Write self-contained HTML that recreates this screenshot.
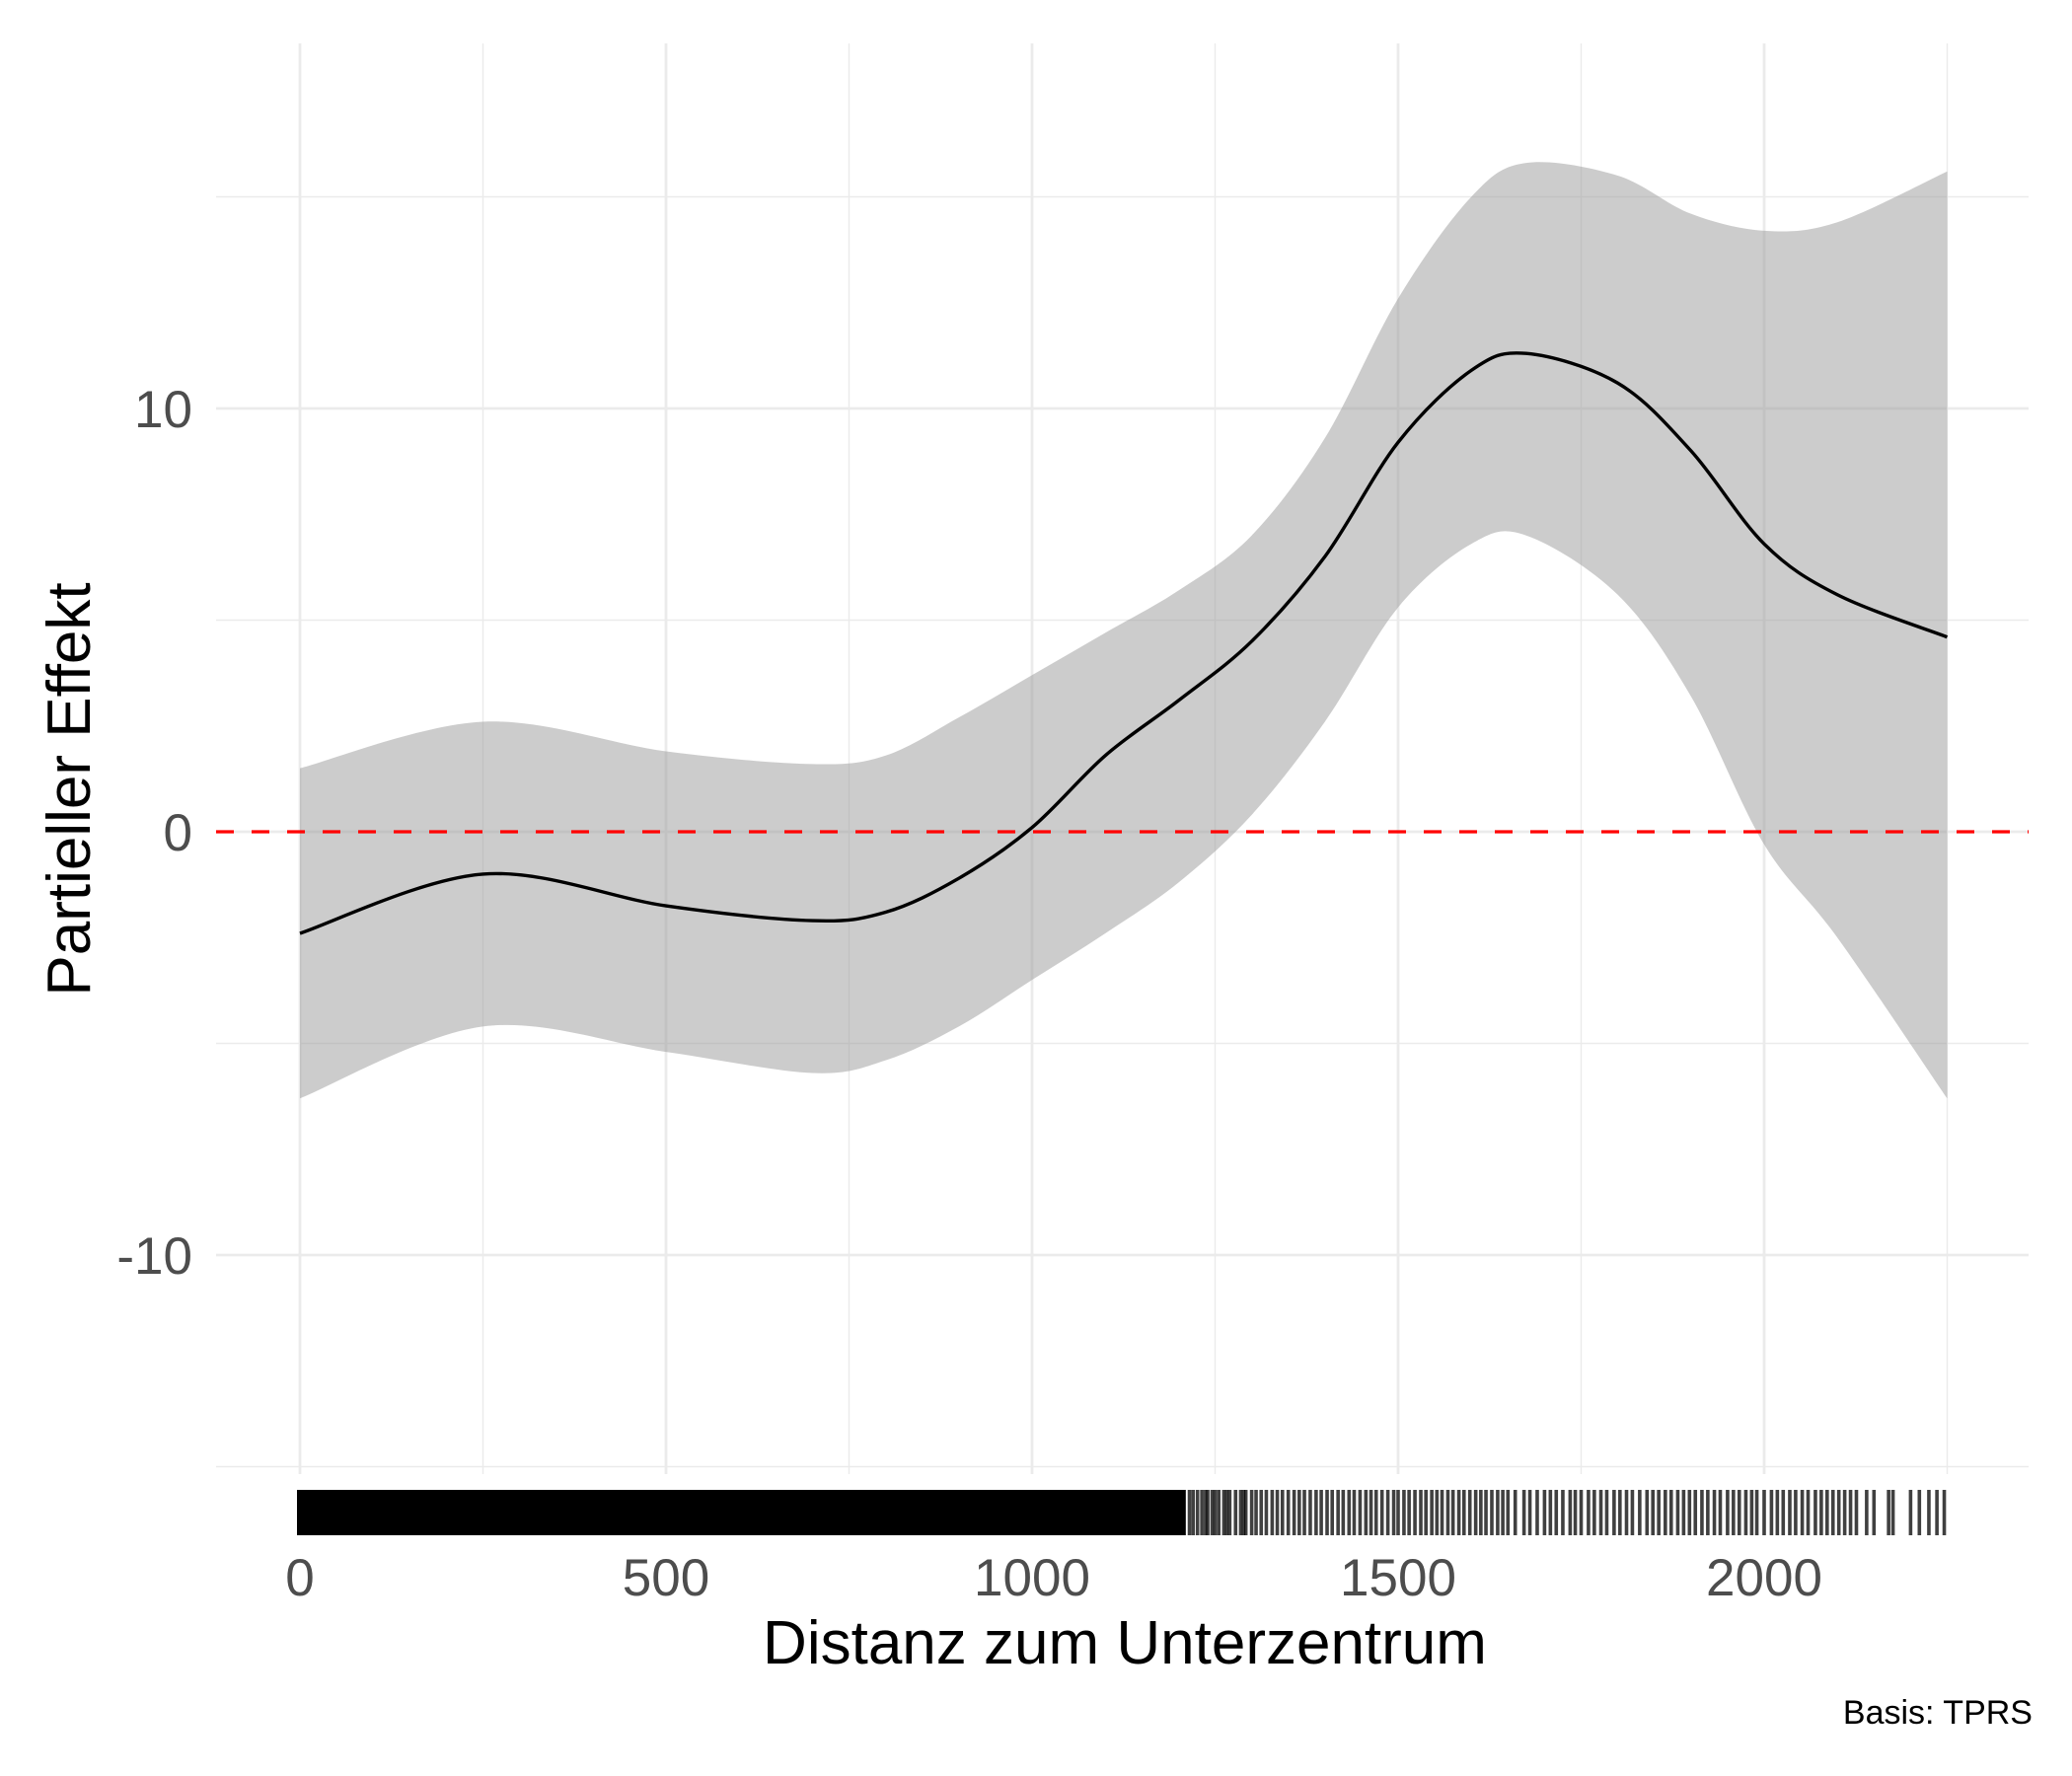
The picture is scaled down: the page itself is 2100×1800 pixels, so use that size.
<!DOCTYPE html>
<html><head><meta charset="utf-8"><style>
html,body{margin:0;padding:0;background:#fff;}
svg{display:block;font-family:"Liberation Sans",Arial,sans-serif;}
</style></head><body>
<svg id="chart" width="2100" height="1800" viewBox="0 0 2100 1800" xmlns="http://www.w3.org/2000/svg">
<g id="grid"></g>
<g id="marks"></g>
<g id="axes"></g>
<text x="1140" y="1686" text-anchor="middle" font-size="62" fill="#000">Distanz zum Unterzentrum</text>
<text transform="translate(91,800) rotate(-90)" text-anchor="middle" font-size="62" fill="#000">Partieller Effekt</text>
<text x="2060" y="1747" text-anchor="end" font-size="34" fill="#000">Basis: TPRS</text>
</svg>
<script>
const xs = [0,250,500,700,800,900,1000,1100,1200,1300,1400,1500,1600,1675,1800,1900,2000,2100,2250];
const fit = [-2.4,-1.0,-1.75,-2.1,-1.9,-1.1,0.1,1.8,3.1,4.5,6.5,9.2,10.9,11.3,10.6,9.0,6.8,5.6,4.6];
const upper = [1.5,2.6,1.9,1.6,1.8,2.7,3.7,4.7,5.7,7.0,9.3,12.6,15.0,15.8,15.5,14.6,14.2,14.4,15.6];
const lower = [-6.3,-4.6,-5.2,-5.7,-5.4,-4.6,-3.5,-2.4,-1.2,0.4,2.6,5.3,6.8,7.0,5.6,3.2,-0.3,-2.5,-6.3];
const xTicks = [0,500,1000,1500,2000];
const xTickLabels = ["0","500","1000","1500","2000"];
const xMinor = [250,750,1250,1750,2250];
const yTicks = [-10,0,10];
const yTickLabels = ["-10","0","10"];
const yMinor = [-15,-5,5,15];
const rugSolidEnd = 1210;
const rug = [1215,1220,1226,1232,1237,1240,1246,1250,1255,1262,1266,1270,1278,1285,1289,1292,1300,1306,1313,1320,1328,1335,1342,1350,1358,1365,1372,1380,1388,1395,1403,1410,1418,1425,1433,1440,1448,1456,1463,1470,1478,1486,1494,1500,1508,1515,1523,1531,1538,1546,1553,1560,1568,1575,1583,1590,1598,1606,1613,1620,1628,1636,1643,1650,1660,1672,1680,1690,1700,1708,1716,1725,1735,1742,1750,1760,1768,1777,1785,1795,1803,1812,1820,1830,1840,1848,1856,1865,1873,1882,1890,1898,1906,1915,1923,1932,1940,1950,1958,1966,1975,1983,1990,2000,2010,2018,2026,2035,2043,2052,2060,2070,2078,2086,2094,2102,2110,2118,2126,2140,2150,2170,2176,2200,2212,2225,2236,2246];

const X = v => 304 + v * (1484/2000);
const Y = v => 843 - v * 42.9;
const NS = "http://www.w3.org/2000/svg";
function mk(tag, attrs, parent){const e=document.createElementNS(NS,tag);for(const k in attrs)e.setAttribute(k,attrs[k]);parent.appendChild(e);return e;}
const grid=document.getElementById('grid'), marks=document.getElementById('marks'), axes=document.getElementById('axes');
const L=219,R=2056,T=44,B=1494;
yMinor.forEach(v=>{const e=mk('line',{x1:L,x2:R,y1:Y(v),y2:Y(v),stroke:'#ebebeb','stroke-width':1.4},grid);

});
xMinor.forEach(v=>{const e=mk('line',{x1:X(v),x2:X(v),y1:T,y2:B,stroke:'#ebebeb','stroke-width':1.4},grid);

});
yTicks.forEach(v=>{const e=mk('line',{x1:L,x2:R,y1:Y(v),y2:Y(v),stroke:'#ebebeb','stroke-width':2.8},grid);

});
xTicks.forEach(v=>{const e=mk('line',{x1:X(v),x2:X(v),y1:T,y2:B,stroke:'#ebebeb','stroke-width':2.8},grid);

});

function smooth(pts){let d=`M${pts[0][0]},${pts[0][1]}`;for(let i=0;i<pts.length-1;i++){const p0=pts[i-1]||pts[i],p1=pts[i],p2=pts[i+1],p3=pts[i+2]||p2;
const c1=[p1[0]+(p2[0]-p0[0])/6,p1[1]+(p2[1]-p0[1])/6],c2=[p2[0]-(p3[0]-p1[0])/6,p2[1]-(p3[1]-p1[1])/6];
d+=` C${c1[0]},${c1[1]} ${c2[0]},${c2[1]} ${p2[0]},${p2[1]}`;}return d;}
const up=xs.map((x,i)=>[X(x),Y(upper[i])]);
const lo=xs.map((x,i)=>[X(x),Y(lower[i])]).reverse();
const bandD=smooth(up)+' L'+smooth(lo).slice(1)+' Z';
const band=mk('path',{d:bandD,fill:'#999','fill-opacity':0.5},marks);


const zl=mk('line',{x1:L,x2:R,y1:Y(0),y2:Y(0),stroke:'#ff0000','stroke-width':3.2,'stroke-dasharray':'18,18'},marks);


const fl=mk('path',{d:smooth(xs.map((x,i)=>[X(x),Y(fit[i])])),fill:'none',stroke:'#000','stroke-width':3.4},marks);


const rs=mk('rect',{x:X(0)-3,y:1510,width:X(rugSolidEnd)-X(0)+3,height:46,fill:'#000'},marks);


rug.forEach(v=>{const e=mk('line',{x1:X(v),x2:X(v),y1:1510,y2:1556,stroke:'#000','stroke-width':3.6,'stroke-opacity':0.75},marks);

});
xTicks.forEach((v,i)=>{const t=mk('text',{x:X(v),y:1617,'text-anchor':'middle','font-size':53,fill:'#4d4d4d'},axes);t.textContent=xTickLabels[i];

});
yTicks.forEach((v,i)=>{const t=mk('text',{x:195,y:Y(v)+19,'text-anchor':'end','font-size':53,fill:'#4d4d4d'},axes);t.textContent=yTickLabels[i];

});
</script>
</body></html>
